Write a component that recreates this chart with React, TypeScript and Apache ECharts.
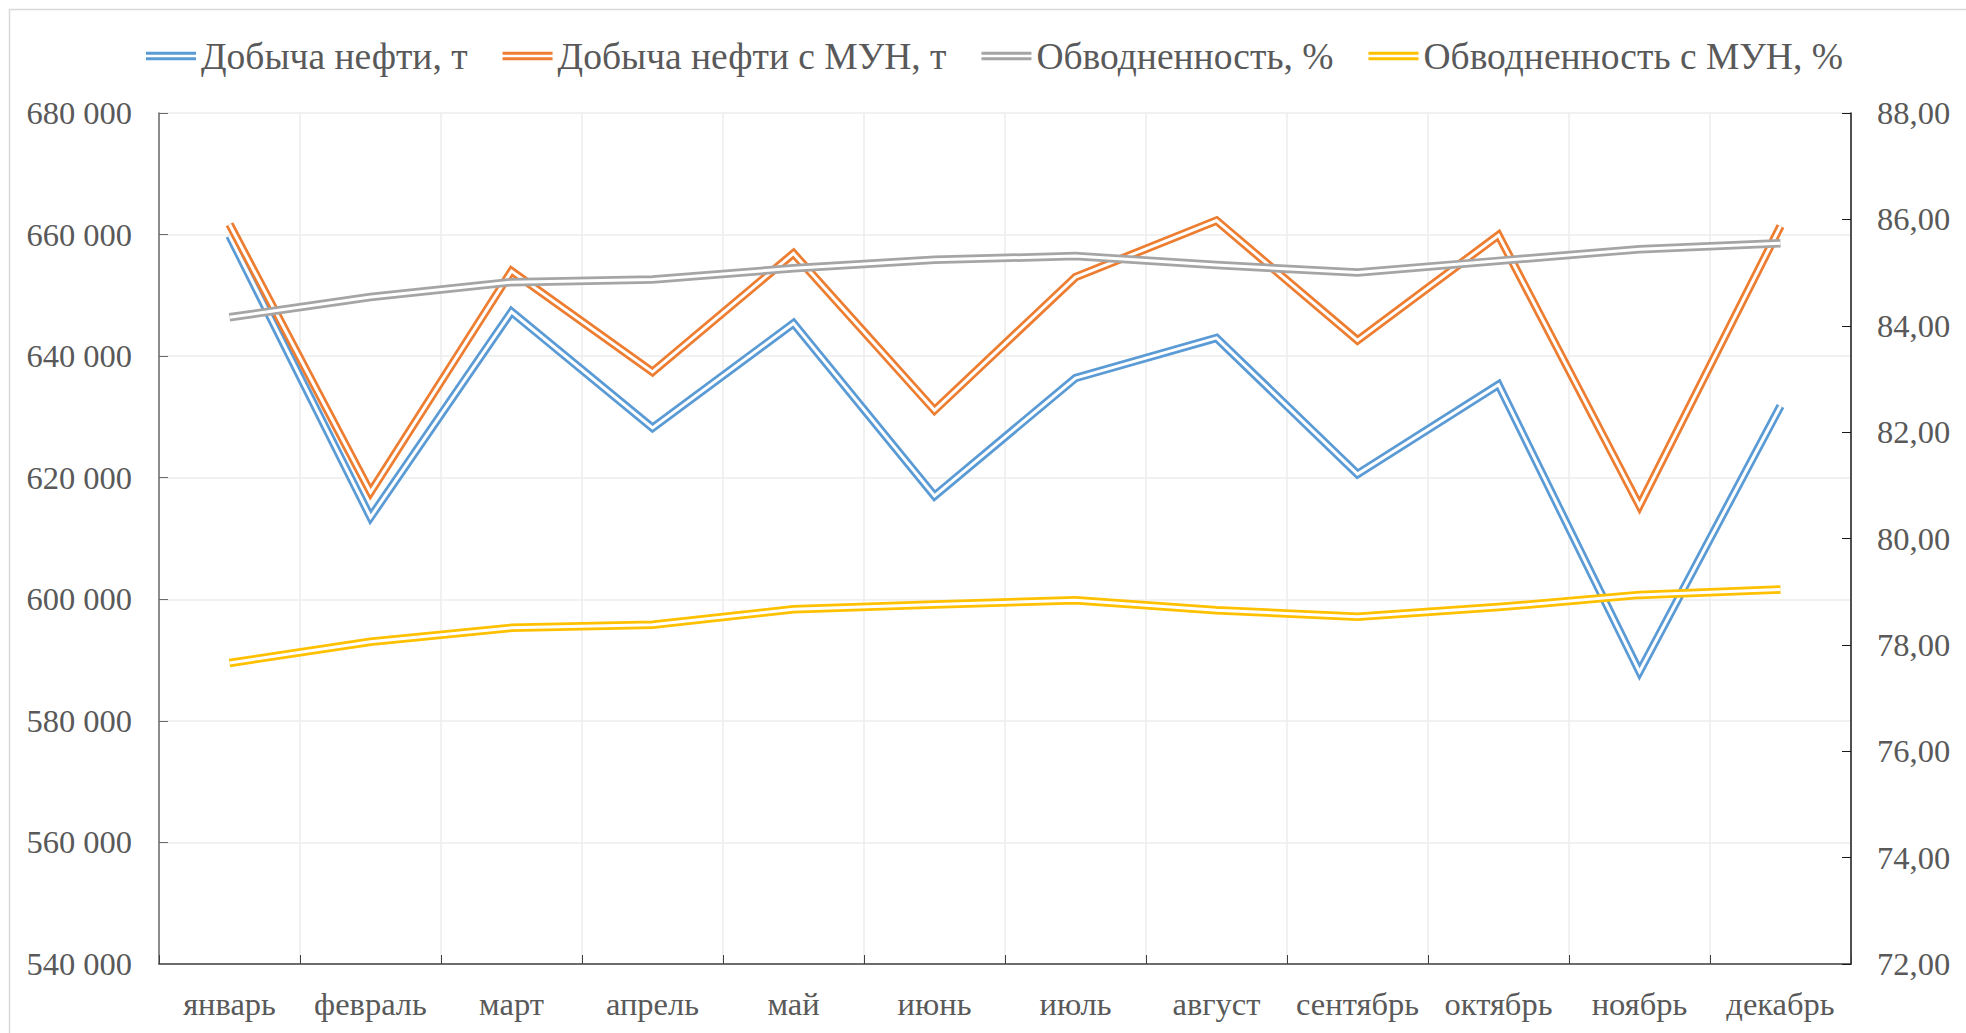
import React, { useEffect, useRef } from "react";
import * as echarts from "echarts";

const months = ["январь", "февраль", "март", "апрель", "май", "июнь", "июль", "август", "сентябрь", "октябрь", "ноябрь", "декабрь"];
const oil = [659800, 613500, 647300, 628200, 645400, 617000, 636400, 643000, 620600, 635300, 588100, 631800];
const oilEor = [661700, 617600, 654000, 637400, 656900, 631100, 653000, 662300, 642600, 659900, 615400, 661400];
const waterCut = [84.16, 84.54, 84.82, 84.87, 85.08, 85.24, 85.31, 85.14, 85.0, 85.22, 85.44, 85.55];
const waterCutEor = [77.66, 78.06, 78.32, 78.38, 78.67, 78.76, 78.84, 78.65, 78.53, 78.71, 78.94, 79.04];

const seriesNames = ["Добыча нефти, т", "Добыча нефти с МУН, т", "Обводненность, %", "Обводненность с МУН, %"];
const seriesColors = ["#5B9BD5", "#ED7D31", "#A5A5A5", "#FFC000"];
const seriesData = [oil, oilEor, waterCut, waterCutEor];
const seriesAxis = [0, 0, 1, 1];

const leftAxis = { min: 540000, max: 680000, interval: 20000 };
const rightAxis = { min: 72, max: 88, interval: 2 };

const FONT = '"Liberation Serif", "Times New Roman", serif';
const TEXT = "#595959";

export default function App() {
  const ref = useRef<HTMLDivElement>(null);
  useEffect(() => {
    document.body.style.margin = "0";
    const chart = echarts.init(ref.current!, undefined, { renderer: "svg" });
    const series: any[] = [];
    seriesData.forEach((d, i) => {
      series.push({
        name: seriesNames[i],
        type: "line",
        yAxisIndex: seriesAxis[i],
        data: d,
        symbol: "none",
        showSymbol: false,
        color: seriesColors[i],
        lineStyle: { color: seriesColors[i], width: 8.5, join: "miter", miterLimit: 20, cap: "butt" },
        z: 2 + i * 2,
      });
      series.push({
        name: seriesNames[i] + " ",
        type: "line",
        yAxisIndex: seriesAxis[i],
        data: d,
        symbol: "none",
        showSymbol: false,
        color: "#ffffff",
        lineStyle: { color: "#ffffff", width: 3, join: "miter", miterLimit: 20, cap: "butt" },
        z: 3 + i * 2,
      });
    });
    chart.setOption({
      animation: false,
      backgroundColor: "#ffffff",
      textStyle: { fontFamily: FONT },
      graphic: [
        {
          type: "rect",
          silent: true,
          z: -10,
          shape: { x: 9.5, y: 9.5, width: 2000, height: 2000 },
          style: { fill: "none", stroke: "#d9d9d9", lineWidth: 1.5 },
        },
      ],
      legend: {
        left: 141,
        top: 32,
        itemWidth: 50,
        itemHeight: 8.5,
        itemGap: 35,
        symbolKeepAspect: false,
        textStyle: { color: TEXT, fontSize: 37.5, fontFamily: FONT },
        data: seriesNames.map((n, i) => ({
          name: n,
          icon: "path://M0,0H50V3H0Z M0,5.5H50V8.5H0Z",
          itemStyle: { color: seriesColors[i], borderWidth: 0 },
        })),
      },
      grid: { left: 159, right: 115, top: 113, bottom: 69, containLabel: false },
      xAxis: {
        type: "category",
        data: months,
        boundaryGap: true,
        axisLine: { lineStyle: { color: "#404040", width: 1.5 } },
        axisTick: { show: true, inside: true, length: 9, lineStyle: { color: "#404040", width: 1 } },
        axisLabel: { color: TEXT, fontSize: 32.5, fontFamily: FONT, margin: 23, interval: 0 },
        splitLine: { show: true, lineStyle: { color: "#ececec", width: 1.5 } },
      },
      yAxis: [
        {
          type: "value",
          ...leftAxis,
          position: "left",
          axisLine: { show: true, lineStyle: { color: "#6a6a6a", width: 1.5 } },
          axisTick: { show: true, inside: true, length: 9, lineStyle: { color: "#6a6a6a" } },
          axisLabel: {
            color: TEXT,
            fontSize: 32.5,
            fontFamily: FONT,
            margin: 27,
            formatter: (v: number) => String(Math.round(v)).replace(/\B(?=(\d{3})+(?!\d))/g, " "),
          },
          splitLine: { show: true, lineStyle: { color: "#ececec", width: 1.5 } },
        },
        {
          type: "value",
          ...rightAxis,
          position: "right",
          axisLine: { show: true, lineStyle: { color: "#1a1a1a", width: 1.5 } },
          axisTick: { show: true, inside: true, length: 9, lineStyle: { color: "#1a1a1a" } },
          axisLabel: {
            color: TEXT,
            fontSize: 32.5,
            fontFamily: FONT,
            margin: 26,
            formatter: (v: number) => v.toFixed(2).replace(".", ","),
          },
          splitLine: { show: false },
        },
      ],
      series,
    });
    return () => chart.dispose();
  }, []);
  return <div ref={ref} style={{ width: 1966, height: 1033 }} />;
}
